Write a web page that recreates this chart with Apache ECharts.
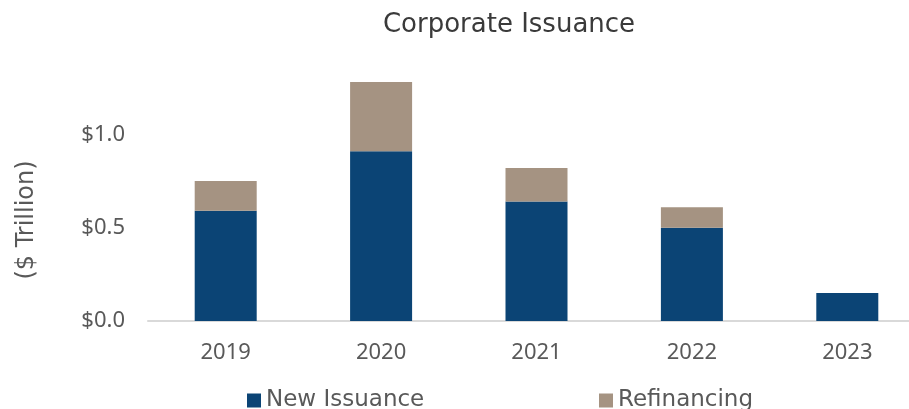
<!DOCTYPE html>
<html>
<head>
<meta charset="utf-8">
<style>
  html, body { margin: 0; padding: 0; background: #ffffff; }
  #chart { width: 909px; height: 409px; }
</style>
<script src="https://cdn.jsdelivr.net/npm/echarts@6/dist/echarts.min.js"></script>
</head>
<body>
<div id="chart"></div>
<script>
// Corporate issuance by year, $ trillion
const years = ['2019', '2020', '2021', '2022', '2023'];
const newIssuance = [0.59, 0.91, 0.64, 0.50, 0.15];
const refinancing = [0.16, 0.37, 0.18, 0.11, 0];
const yTicks = [0, 0.5, 1.0];

const NUM_FONT = '"Noto Sans", sans-serif';
const TEXT_FONT = '"DejaVu Sans", sans-serif';
const NAVY = '#0b4475';
const TAUPE = '#a59382';
const LABEL = '#595959';

const chart = echarts.init(document.getElementById('chart'), null, { renderer: 'canvas' });

chart.setOption({
  animation: false,
  backgroundColor: '#ffffff',
  title: {
    text: 'Corporate Issuance',
    left: 509,
    top: 12,
    textAlign: 'center',
    padding: 0,
    textStyle: { fontFamily: TEXT_FONT, fontSize: 26, fontWeight: 'normal', color: '#3a3a3a' }
  },
  legend: [
    {
      data: ['New Issuance'],
      left: 247, top: 389, padding: 0,
      icon: 'rect', itemWidth: 14, itemHeight: 14, itemGap: 0,
      textStyle: { fontFamily: TEXT_FONT, fontSize: 23, color: LABEL, lineHeight: 22 }
    },
    {
      data: ['Refinancing'],
      left: 599, top: 389, padding: 0,
      icon: 'rect', itemWidth: 14, itemHeight: 14, itemGap: 0,
      textStyle: { fontFamily: TEXT_FONT, fontSize: 23, color: LABEL, lineHeight: 22 }
    }
  ],
  // plot area runs past the right edge, so the last category band is clipped
  grid: { left: 148, width: 777, top: 41, bottom: 88, containLabel: false, outerBoundsMode: 'none' },
  graphic: [
    {
      type: 'text',
      x: 27,
      y: 220,
      rotation: Math.PI / 2,
      style: {
        text: '($ Trillion)',
        font: '24px "DejaVu Sans", sans-serif',
        fill: LABEL,
        align: 'center',
        verticalAlign: 'middle'
      }
    }
  ],
  xAxis: {
    type: 'category',
    data: years,
    axisLine: { lineStyle: { color: '#d9d9d9', width: 2 } },
    axisTick: { show: false },
    axisLabel: { fontFamily: NUM_FONT, fontSize: 22, color: LABEL, margin: 21 }
  },
  yAxis: {
    type: 'value',
    min: 0,
    max: 1.5,
    interval: 0.5,
    axisLine: { show: false },
    axisTick: { show: false },
    splitLine: { show: false },
    axisLabel: {
      fontFamily: NUM_FONT, fontSize: 22, color: LABEL, margin: 23,
      formatter: v => yTicks.some(t => Math.abs(t - v) < 1e-9) ? '$' + v.toFixed(1) : ''
    }
  },
  series: [
    {
      name: 'New Issuance',
      type: 'bar',
      stack: 'total',
      barWidth: 62,
      data: newIssuance,
      itemStyle: { color: NAVY }
    },
    {
      name: 'Refinancing',
      type: 'bar',
      stack: 'total',
      barWidth: 62,
      data: refinancing,
      itemStyle: { color: TAUPE }
    }
  ]
});
</script>
</body>
</html>
